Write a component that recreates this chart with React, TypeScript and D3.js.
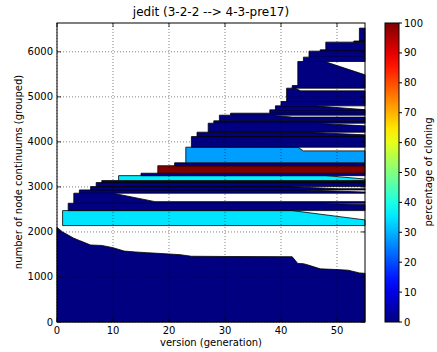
import React, { useEffect, useRef } from "react";
import * as d3 from "d3";

// bottom band (the nodes present from the first version), top edge by generation
const baseGen = [0, 1, 2, 3, 4, 5, 6, 8, 10, 12, 14, 16, 18, 20, 22, 24, 30, 42, 43, 44, 45, 47, 50, 52, 54, 55];
const baseTop = [2100, 2000, 1930, 1860, 1810, 1760, 1710, 1700, 1650, 1575, 1555, 1540, 1525, 1510, 1495, 1460, 1455, 1450, 1300, 1295, 1260, 1180, 1165, 1150, 1090, 1080];

// grouped continuums added later: first generation, lower / upper count, % of cloning
const bandStart = [1, 2, 3, 4, 6, 7, 8, 11, 15, 18, 21, 23, 24, 25, 27, 28, 29, 31, 38, 39, 40, 41, 42, 43, 44, 45, 47, 48, 53, 54];
const bandBottom = [2141, 2474, 2637, 2860, 2933, 3007, 3096, 3140, 3250, 3304, 3470, 3535, 3882, 4118, 4215, 4415, 4467, 4593, 4637, 4711, 4800, 4896, 5193, 5252, 5785, 5882, 6015, 6044, 6215, 6240];
const bandTop = [2474, 2637, 2860, 2933, 3007, 3096, 3140, 3250, 3304, 3470, 3535, 3882, 4118, 4215, 4415, 4467, 4593, 4637, 4711, 4800, 4896, 5193, 5252, 5785, 5882, 6015, 6044, 6215, 6240, 6526];
const bandCloning = [35, 0, 0, 0, 0, 0, 0, 36, 0, 100, 0, 28, 0, 0, 0, 0, 0, 0, 0, 0, 0, 0, 0, 0, 0, 0, 0, 0, 0, 0];
// where a group shrinks: generation it starts/stops shrinking and the count it ends at
const shrinkFrom = [42, 45, 10, 44, 41, null, null, 48, null, null, null, 43, null, 44.5, 46, null, 38, null, null, 46, null, 42.5, null, 47.8, null, null, null, null, null, null];
const shrinkTo = [55, 55, 17.5, 55, 50, null, null, 55, null, null, null, 44, null, 55, 55, null, 42, null, null, 55, null, 43.5, null, 55, null, null, null, null, null, null];
const shrinkEnd = [2267, 2610, 2673, 2885, 2960, null, null, 3175, null, null, null, 3800, null, 4156, 4356, null, 4550, null, null, 4715, null, 5133, null, 5489, null, null, null, null, null, null];

const xTicks = [0, 10, 20, 30, 40, 50];
const yTicks = [0, 1000, 2000, 3000, 4000, 5000, 6000];
const cbTicks = [0, 10, 20, 30, 40, 50, 60, 70, 80, 90, 100];

const lastGen = 55;
const maxCount = 6640;

function jet(t: number) {
  const c = (v: number) => Math.round(255 * Math.max(0, Math.min(1, v)));
  const r = c(1.5 - Math.abs(4 * t - 3));
  const g = c(1.5 - Math.abs(4 * t - 2));
  const b = c(1.5 - Math.abs(4 * t - 1));
  return `rgb(${r},${g},${b})`;
}

function createChart(node: SVGSVGElement) {
  const svg = d3.select(node);
  svg.selectAll("*").remove();
  const font = "DejaVu Sans, sans-serif";

  const x = d3.scaleLinear().domain([0, lastGen]).range([57, 365]);
  const y = d3.scaleLinear().domain([0, maxCount]).range([322, 23]);
  const line = d3
    .line<[number, number]>()
    .x((d) => x(d[0]))
    .y((d) => y(d[1]));

  const plot = svg.append("g");

  // bottom band
  const basePts: [number, number][] = [[0, 0]];
  baseGen.forEach((g, i) => basePts.push([g, baseTop[i]]));
  basePts.push([lastGen, 0]);
  plot
    .append("path")
    .attr("d", line(basePts) + "Z")
    .attr("fill", jet(0))
    .attr("stroke", "#000")
    .attr("stroke-width", 0.8);

  // later groups
  bandStart.forEach((s, i) => {
    const pts: [number, number][] = [
      [s, bandBottom[i]],
      [s, bandTop[i]],
    ];
    const f = shrinkFrom[i];
    if (f !== null) {
      pts.push([Math.max(s, f), bandTop[i]]);
      pts.push([shrinkTo[i] as number, shrinkEnd[i] as number]);
      pts.push([lastGen, shrinkEnd[i] as number]);
    } else {
      pts.push([lastGen, bandTop[i]]);
    }
    pts.push([lastGen, bandBottom[i]]);
    plot
      .append("path")
      .attr("d", line(pts) + "Z")
      .attr("fill", jet(bandCloning[i] / 100))
      .attr("stroke", "#000")
      .attr("stroke-width", 0.8);
  });

  // grid on top
  const grid = svg.append("g").attr("stroke", "#000").attr("stroke-width", 0.5).attr("stroke-dasharray", "1,2");
  xTicks.forEach((t) => {
    grid.append("line").attr("x1", x(t)).attr("x2", x(t)).attr("y1", 23).attr("y2", 322);
  });
  yTicks.forEach((t) => {
    grid.append("line").attr("x1", 57).attr("x2", 365).attr("y1", y(t)).attr("y2", y(t));
  });

  // frame + ticks (inward, all sides)
  svg
    .append("rect")
    .attr("x", 57)
    .attr("y", 23)
    .attr("width", 308)
    .attr("height", 299)
    .attr("fill", "none")
    .attr("stroke", "#000")
    .attr("stroke-width", 1);

  const ticks = svg.append("g").attr("stroke", "#000").attr("stroke-width", 0.8);
  xTicks.forEach((t) => {
    ticks.append("line").attr("x1", x(t)).attr("x2", x(t)).attr("y1", 322).attr("y2", 318);
    ticks.append("line").attr("x1", x(t)).attr("x2", x(t)).attr("y1", 23).attr("y2", 27);
  });
  yTicks.forEach((t) => {
    ticks.append("line").attr("x1", 57).attr("x2", 61).attr("y1", y(t)).attr("y2", y(t));
    ticks.append("line").attr("x1", 365).attr("x2", 361).attr("y1", y(t)).attr("y2", y(t));
  });

  const labels = svg.append("g").attr("font-family", font).attr("font-size", 10).attr("fill", "#000");
  xTicks.forEach((t) => {
    labels
      .append("text")
      .attr("x", x(t))
      .attr("y", 334)
      .attr("text-anchor", "middle")
      .text(t);
  });
  yTicks.forEach((t) => {
    labels
      .append("text")
      .attr("x", 53)
      .attr("y", y(t))
      .attr("dy", "0.35em")
      .attr("text-anchor", "end")
      .text(t);
  });

  labels
    .append("text")
    .attr("x", 211)
    .attr("y", 346)
    .attr("text-anchor", "middle")
    .text("version (generation)");
  labels
    .append("text")
    .attr("transform", "translate(22,172) rotate(-90)")
    .attr("text-anchor", "middle")
    .text("number of node continuums (grouped)");
  svg
    .append("text")
    .attr("x", 211)
    .attr("y", 16)
    .attr("text-anchor", "middle")
    .attr("font-family", font)
    .attr("font-size", 12)
    .text("jedit (3-2-2 --> 4-3-pre17)");

  // colorbar
  const cb = d3.scaleLinear().domain([0, 100]).range([322, 23]);
  const grad = svg
    .append("defs")
    .append("linearGradient")
    .attr("id", "jetGrad")
    .attr("x1", 0)
    .attr("y1", 1)
    .attr("x2", 0)
    .attr("y2", 0);
  d3.range(0, 1.0001, 0.05).forEach((t) => {
    grad.append("stop").attr("offset", t).attr("stop-color", jet(t));
  });
  svg
    .append("rect")
    .attr("x", 385)
    .attr("y", 23)
    .attr("width", 14)
    .attr("height", 299)
    .attr("fill", "url(#jetGrad)")
    .attr("stroke", "#000")
    .attr("stroke-width", 1);
  cbTicks.forEach((t) => {
    svg.append("line").attr("x1", 399).attr("x2", 402).attr("y1", cb(t)).attr("y2", cb(t)).attr("stroke", "#000");
    labels
      .append("text")
      .attr("x", 404)
      .attr("y", cb(t))
      .attr("dy", "0.35em")
      .text(t);
  });
  labels
    .append("text")
    .attr("transform", "translate(432,172) rotate(-90)")
    .attr("text-anchor", "middle")
    .text("percentage of cloning");
}

export default function App() {
  const ref = useRef<SVGSVGElement>(null);
  useEffect(() => {
    if (ref.current) createChart(ref.current);
  }, []);
  return (
    <svg
      ref={ref}
      width={437}
      height={352}
      style={{ position: "absolute", left: 0, top: 0, background: "#fff" }}
    />
  );
}
